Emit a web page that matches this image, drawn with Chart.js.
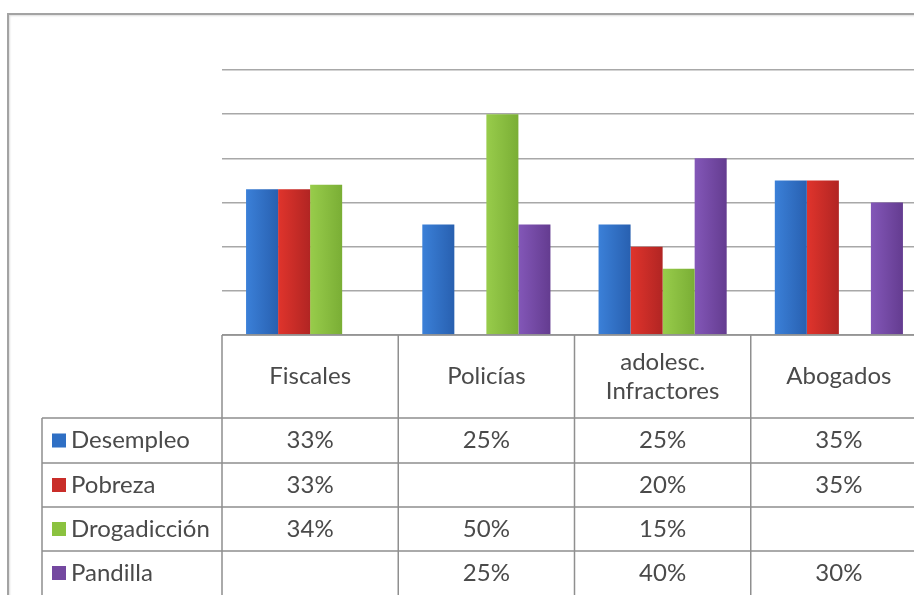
<!DOCTYPE html>
<html>
<head>
<meta charset="utf-8">
<script src="https://cdn.jsdelivr.net/npm/chart.js@4"></script>
<style>
  html, body { margin: 0; padding: 0; background: #fff; overflow: hidden; }
  #wrap { position: relative; width: 940px; height: 595px; }
  #frame { position: absolute; left: 7px; top: 13px; width: 1000px; height: 700px;
           border: 2px solid #a3a3a3; box-shadow: inset 1px 1px 2px #ddd; }
  canvas { position: absolute; left: 0; top: 0; }
</style>
</head>
<body>
<div id="wrap">
  <div id="frame"></div>
  <canvas id="chart" width="940" height="595"></canvas>
</div>
<script>
// categorias y series (%)
const categorias = [["Fiscales"], ["Policías"], ["adolesc.", "Infractores"], ["Abogados"]];
const series = ["Desempleo", "Pobreza", "Drogadicción", "Pandilla"];
const desempleo = [33, 25, 25, 35];
const pobreza = [33, null, 20, 35];
const drogadiccion = [34, 50, 15, null];
const pandilla = [null, 25, 40, 30];
const colores = ["#2f6fc4", "#c92d29", "#8bc23f", "#7448a0"];
const claros = ["#3b80d8", "#e0342c", "#98cc4b", "#8357b8"];
const oscuros = ["#2860b0", "#b12523", "#7aae35", "#643c90"];

const valores = [desempleo, pobreza, drogadiccion, pandilla];
const fuente = "24px Lato, 'Open Sans', sans-serif";
const gris = "#4a4a4a";

// degradado horizontal en cada barra (opciones propias por barra)
const degradado = {
    id: "degradado",
    beforeDatasetsDraw(chart) {
        const ctx = chart.ctx;
        chart.data.datasets.forEach((ds, s) => {
            chart.getDatasetMeta(s).data.forEach(el => {
                const g = ctx.createLinearGradient(el.x - el.width / 2, 0, el.x + el.width / 2, 0);
                g.addColorStop(0, claros[s]);
                g.addColorStop(1, oscuros[s]);
                el.options = Object.assign({}, el.options, { backgroundColor: g });
            });
        });
    }
};

// tabla de datos debajo del grafico
const tablaDatos = {
    id: "tablaDatos",
    afterDraw(chart) {
        const ctx = chart.ctx;
        const x = chart.scales.x;
        const area = chart.chartArea;
        const ancho = (area.right - area.left) / categorias.length;
        const filas = [area.bottom, 418, 463, 507, 551, 595];
        const izq = 42;

        ctx.save();
        ctx.strokeStyle = "#8f8f8f";
        ctx.lineWidth = 1.5;
        ctx.beginPath();
        // horizontales
        ctx.moveTo(area.left, filas[0]);
        ctx.lineTo(area.right, filas[0]);
        for (let r = 1; r < filas.length - 1; r++) {
            ctx.moveTo(izq, filas[r]);
            ctx.lineTo(area.right, filas[r]);
        }
        // verticales
        for (let c = 0; c <= categorias.length; c++) {
            const px = area.left + c * ancho;
            ctx.moveTo(px, filas[0]);
            ctx.lineTo(px, 600);
        }
        ctx.moveTo(izq, filas[1]);
        ctx.lineTo(izq, 600);
        ctx.stroke();

        ctx.font = fuente;
        ctx.fillStyle = gris;
        ctx.textAlign = "center";
        ctx.textBaseline = "middle";
        // encabezados
        categorias.forEach((lineas, i) => {
            const cx = x.getPixelForValue(i);
            const cy = (filas[0] + filas[1]) / 2;
            const alto = 29;
            lineas.forEach((t, k) => {
                ctx.fillText(t, cx, cy + (k - (lineas.length - 1) / 2) * alto);
            });
        });
        // filas de la serie
        series.forEach((nombre, s) => {
            const cy = (filas[s + 1] + filas[s + 2]) / 2;
            ctx.fillStyle = colores[s];
            ctx.fillRect(52, cy - 7, 14, 14);
            ctx.fillStyle = gris;
            ctx.textAlign = "left";
            ctx.fillText(nombre, 71, cy);
            ctx.textAlign = "center";
            valores[s].forEach((v, i) => {
                if (v === null) return;
                ctx.fillText(v + "%", x.getPixelForValue(i), cy);
            });
        });
        ctx.restore();
    }
};

const datasets = series.map((nombre, s) => ({
    label: nombre,
    data: valores[s],
    backgroundColor: colores[s],
    borderWidth: 0,
    barPercentage: 1,
    categoryPercentage: 0.727,
}));

new Chart(document.getElementById("chart").getContext("2d"), {
    type: "bar",
    data: { labels: categorias.map(l => l.join(" ")), datasets: datasets },
    options: {
        responsive: false,
        animation: false,
        layout: { padding: { left: 222, right: 13, top: 70, bottom: 260 } },
        plugins: { legend: { display: false }, tooltip: { enabled: false } },
        scales: {
            x: { display: false },
            y: {
                min: 0,
                max: 60,
                ticks: { display: false, stepSize: 10 },
                border: { display: false },
                grid: { drawTicks: false, color: "#a8a8a8", lineWidth: 1.5 },
            },
        },
    },
    plugins: [degradado, tablaDatos],
});
</script>
</body>
</html>
